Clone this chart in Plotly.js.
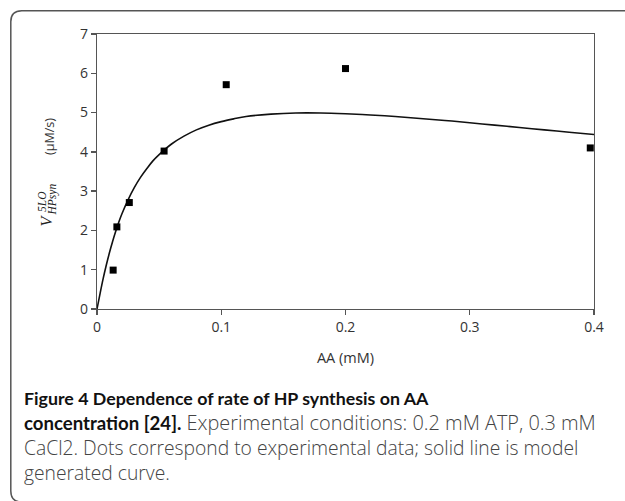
<!DOCTYPE html>
<html>
<head>
<meta charset="utf-8">
<script src="https://cdn.plot.ly/plotly-3.0.1.min.js"></script>
<style>
  html, body { margin: 0; padding: 0; background: #fff; overflow: hidden; }
  #chart { width: 625px; height: 501px; }
</style>
</head>
<body>
<div id="chart"></div>
<script>
// Experimental data (dots)
const expAA = [0.013, 0.016, 0.026, 0.054, 0.104, 0.200, 0.397];
const expRate = [0.99, 2.09, 2.71, 4.02, 5.71, 6.12, 4.10];

// Model generated curve (solid line)
const modelAA = [0, 0.0025, 0.005, 0.0075, 0.01, 0.0125, 0.015, 0.0175, 0.02, 0.025, 0.03, 0.035,
                 0.04, 0.045, 0.05, 0.06, 0.07, 0.08, 0.09, 0.10, 0.11, 0.12, 0.14, 0.16, 0.18,
                 0.20, 0.22, 0.24, 0.26, 0.28, 0.30, 0.32, 0.34, 0.36, 0.38, 0.40];
const modelRate = [0, 0.40, 0.78, 1.12, 1.43, 1.71, 1.97, 2.21, 2.42, 2.78, 3.09, 3.35,
                   3.57, 3.77, 3.93, 4.20, 4.40, 4.56, 4.68, 4.77, 4.84, 4.90, 4.96, 4.99, 4.99,
                   4.97, 4.94, 4.90, 4.85, 4.80, 4.74, 4.68, 4.62, 4.56, 4.50, 4.44];

const xTicks = [0, 0.1, 0.2, 0.3, 0.4];
const xTickText = ["0", "0.1", "0.2", "0.3", "0.4"];
const yTicks = [0, 1, 2, 3, 4, 5, 6, 7];

const bold = (t, s) => '<span style="font-family:Lato, sans-serif;font-weight:bold;font-size:' + s + 'px;fill:#111">' + t + '</span>';
const reg = (t, s) => '<span style="font-family:Open Sans, sans-serif;font-weight:300;font-size:' + s + 'px;fill:#444">' + t + '</span>';
const captionLines = [
  bold("Figure 4 Dependence of rate of HP synthesis on AA", 17.8),
  bold("concentration [24].", 18.6) + reg(" Experimental conditions: 0.2 mM ATP, 0.3 mM", 19.9),
  reg("CaCl2. Dots correspond to experimental data; solid line is model", 19.3),
  reg("generated curve.", 19.3)
];

const L = 97, R = 594, T = 34, B = 309;
const W = 625, H = 501;
const pw = R - L, ph = B - T;
const px = v => (v - L) / pw;
const py = v => (B - v) / ph;

const tickFont = { family: "Open Sans, sans-serif", size: 14, color: "#333" };
const mathFont = { family: "Liberation Serif, serif", color: "#222" };

const annotations = [];
// y-axis title pieces (rotated)
annotations.push({ xref: "paper", yref: "paper", x: px(46.5), y: py(221), text: "<i>V</i>",
  showarrow: false, textangle: -90, font: Object.assign({ size: 16 }, mathFont), xanchor: "center", yanchor: "middle" });
annotations.push({ xref: "paper", yref: "paper", x: px(42), y: py(202), text: "<i>5LO</i>",
  showarrow: false, textangle: -90, font: Object.assign({ size: 11.5 }, mathFont), xanchor: "center", yanchor: "middle" });
annotations.push({ xref: "paper", yref: "paper", x: px(51.5), y: py(200), text: "<i>HPsyn</i>",
  showarrow: false, textangle: -90, font: Object.assign({ size: 11.5 }, mathFont), xanchor: "center", yanchor: "middle" });
annotations.push({ xref: "paper", yref: "paper", x: px(49), y: py(137), text: "(μM/s)",
  showarrow: false, textangle: -90, font: { family: "Open Sans, sans-serif", size: 12.5, color: "#333" }, xanchor: "center", yanchor: "middle" });

// caption (one block, line spacing 1.3 x base size)
annotations.push({ xref: "paper", yref: "paper", x: px(22), y: py(436.5), text: captionLines.join("<br>"),
  showarrow: false, xanchor: "left", yanchor: "middle", align: "left",
  font: { family: "Open Sans, sans-serif", size: 19.3, color: "#333" } });

// rounded frame around the figure (open to the right / bottom edge of the picture)
const fx0 = 10.8, fy0 = 10.8, fy1 = 502, rad = 11;
const framePath =
  "M " + px(700) + "," + py(fy0) +
  " L " + px(fx0 + rad) + "," + py(fy0) +
  " Q " + px(fx0) + "," + py(fy0) + " " + px(fx0) + "," + py(fy0 + rad) +
  " L " + px(fx0) + "," + py(fy1 - rad) +
  " Q " + px(fx0) + "," + py(fy1) + " " + px(fx0 + rad) + "," + py(fy1) +
  " L " + px(700) + "," + py(fy1);

const traces = [
  { x: modelAA, y: modelRate, mode: "lines", line: { color: "#111", width: 1.6, shape: "spline" },
    hoverinfo: "skip", showlegend: false },
  { x: expAA, y: expRate, mode: "markers", marker: { symbol: "square", size: 7, color: "#000" },
    showlegend: false }
];

const layout = {
  width: W, height: H,
  margin: { l: L, r: W - R, t: T, b: H - B, pad: 0 },
  paper_bgcolor: "#fff", plot_bgcolor: "#fff",
  showlegend: false,
  xaxis: {
    range: [0, 0.4], tickvals: xTicks, ticktext: xTickText,
    showline: true, mirror: true, linecolor: "#555", linewidth: 1.3,
    ticks: "outside", ticklen: 5, tickcolor: "#555", tickwidth: 1.3,
    showgrid: false, zeroline: false, tickfont: tickFont,
    title: { text: "AA (mM)", font: { family: "Open Sans, sans-serif", size: 14.5, color: "#333" }, standoff: 17 }
  },
  yaxis: {
    range: [0, 7], tickvals: yTicks,
    showline: true, mirror: true, linecolor: "#555", linewidth: 1.3,
    ticks: "outside", ticklen: 5, tickcolor: "#555", tickwidth: 1.3,
    showgrid: false, zeroline: false, tickfont: tickFont
  },
  shapes: [
    { type: "path", xref: "paper", yref: "paper", path: framePath, layer: "above",
      line: { color: "#555", width: 1.5 }, fillcolor: "rgba(0,0,0,0)" }
  ],
  annotations: annotations
};

Plotly.newPlot("chart", traces, layout, { displayModeBar: false, staticPlot: true });
</script>
</body>
</html>
